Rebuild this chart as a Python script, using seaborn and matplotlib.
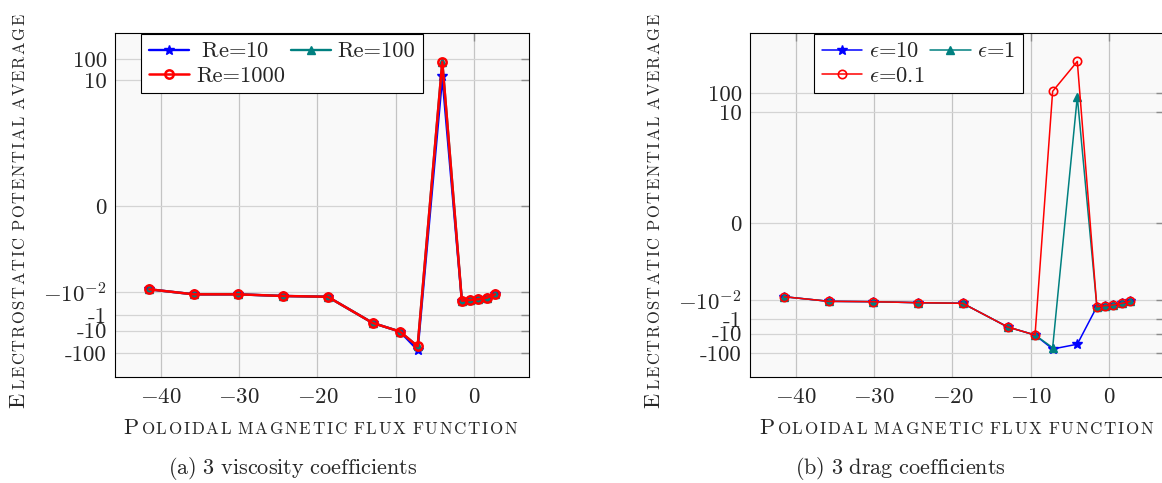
import numpy as np
import matplotlib
matplotlib.use("Agg")
import matplotlib.pyplot as plt
import seaborn as sns

# ---------------------------------------------------------------- data
# Poloidal flux sample locations (shared by both panels)
PSI = [-41.5, -35.8, -30.1, -24.4, -18.7, -12.95, -9.45, -7.2, -4.05,
       -1.55, -0.55, 0.5, 1.65, 2.7]

# Panel (a): three viscosity coefficients
RE_10 = [-0.009, -0.015, -0.015, -0.021, -0.0245, -3.2, -11.0, -73.0, 16.0,
         -0.055, -0.048, -0.041, -0.030, -0.015]
RE_100 = [-0.009, -0.015, -0.015, -0.021, -0.0245, -3.2, -11.0, -50.0, 72.0,
          -0.055, -0.048, -0.041, -0.030, -0.015]
RE_1000 = [-0.009, -0.015, -0.015, -0.021, -0.0245, -3.2, -11.0, -50.0, 72.0,
           -0.055, -0.048, -0.041, -0.030, -0.015]

# Panel (b): three drag coefficients
EPS_10 = [-0.0088, -0.0137, -0.015, -0.019, -0.022, -3.4, -11.7, -62.0, -35.0,
          -0.050, -0.039, -0.033, -0.022, -0.0137]
EPS_1 = [-0.0088, -0.0137, -0.015, -0.019, -0.022, -3.4, -11.7, -53.0, 64.0,
         -0.050, -0.039, -0.033, -0.022, -0.0137]
EPS_01 = [-0.0088, -0.0137, -0.015, -0.019, -0.022, -3.4, -11.7, 122.0, 4200.0,
          -0.050, -0.039, -0.033, -0.022, -0.0137]

LABELS_A = [r"$\;$Re=10", "Re=100", "Re=1000"]
LABELS_B = [r"$\epsilon$=10", r"$\epsilon$=1", r"$\epsilon$=0.1"]

X_TICKS = [-40, -30, -20, -10, 0]
X_TICK_LABELS = [r"$-40$", r"$-30$", r"$-20$", r"$-10$", r"$0$"]
Y_TICKS = [-100, -10, -1, -0.01, 0, 10, 100]
Y_TICK_LABELS = ["-100", "-10", "-1", r"$-10^{-2}$", "0", "10", "100"]

X_LABEL = ("P", "OLOIDAL MAGNETIC FLUX FUNCTION")
Y_LABEL = ("E", "LECTROSTATIC POTENTIAL AVERAGE")
CAPTIONS = [r"$\mathrm{(a)\ 3\ viscosity\ coefficients}$",
            r"$\mathrm{(b)\ 3\ drag\ coefficients}$"]

# ---------------------------------------------------------------- style
sns.set_style("white")
plt.rcParams.update({
    "font.family": "cmr10",
    "mathtext.fontset": "cm",
    "axes.unicode_minus": False,
    "axes.formatter.use_mathtext": True,
})

BLUE, TEAL, RED = "#0000ff", "#008080", "#ff0000"
W, H = 1162, 483
fig = plt.figure(figsize=(W / 100, H / 100), dpi=100)


def px_box(left, top, right, bottom):
    return [left / W, 1 - bottom / H, (right - left) / W, (bottom - top) / H]


ax_a = fig.add_axes(px_box(115, 33.3, 529.3, 377.3))
ax_b = fig.add_axes(px_box(750, 33.3, 1164.3, 377.3))

# tick heights (axes fraction) used to build the piecewise symmetric-log axis
FRACS_A = [0.0706, 0.1355, 0.181, 0.247, 0.498, 0.863, 0.926]
FRACS_B = [0.0706, 0.1267, 0.1686, 0.2247, 0.4485, 0.770, 0.8265]

LN10 = np.log(10.0)


def _sym(v):
    return np.arcsinh(np.asarray(v, dtype=float) / 1e-3) / LN10


def _unsym(s):
    return 1e-3 * np.sinh(np.asarray(s, dtype=float) * LN10)


def _pw(x, xk, yk):
    x = np.asarray(x, dtype=float)
    out = np.interp(x, xk, yk)
    lo_slope = (yk[1] - yk[0]) / (xk[1] - xk[0])
    hi_slope = (yk[-1] - yk[-2]) / (xk[-1] - xk[-2])
    out = np.where(x < xk[0], yk[0] + (x - xk[0]) * lo_slope, out)
    out = np.where(x > xk[-1], yk[-1] + (x - xk[-1]) * hi_slope, out)
    return out


def make_scale(fracs):
    sk = _sym(Y_TICKS)
    fk = np.asarray(fracs, dtype=float)

    def forward(v):
        return _pw(_sym(v), sk, fk)

    def inverse(f):
        return _unsym(_pw(f, fk, sk))

    return forward, inverse


def draw_series(ax, y, color, marker, ms, lw, mew, label, open_marker=False):
    sns.lineplot(x=PSI, y=y, ax=ax, color=color, linewidth=lw,
                 marker=marker, markersize=ms, markeredgewidth=mew,
                 markeredgecolor=color,
                 markerfacecolor="none" if open_marker else color,
                 label=label, estimator=None, sort=False)


def style_axes(ax, fracs):
    fwd, inv = make_scale(fracs)
    ax.set_yscale("function", functions=(fwd, inv))
    ax.set_ylim(float(inv(0.0)), float(inv(1.0)))
    ax.set_xlim(-45.88, 7.07)
    ax.set_xticks(X_TICKS)
    ax.set_xticklabels(X_TICK_LABELS)
    ax.set_yticks(Y_TICKS)
    ax.set_yticklabels(Y_TICK_LABELS)
    ax.yaxis.set_minor_locator(matplotlib.ticker.NullLocator())
    ax.xaxis.set_minor_locator(matplotlib.ticker.NullLocator())
    ax.set_facecolor("#f9f9f9")
    ax.set_axisbelow(True)
    ax.xaxis.grid(True, color="#c4c4c4", linewidth=0.9)
    ax.yaxis.grid(True, color="#d4d4d4", linewidth=0.9)
    ax.tick_params(which="major", direction="in", length=6, width=1.0,
                   color="#8c8c8c", top=True, right=True, labelsize=16.5)
    ax.tick_params(axis="x", pad=7)
    ax.tick_params(axis="y", pad=6)
    for sp in ax.spines.values():
        sp.set_color("black")
        sp.set_linewidth(0.8)
    ax.set_xlabel("")
    ax.set_ylabel("")


# ---------------------------------------------------------------- panel (a)
draw_series(ax_a, RE_10, BLUE, "*", 7.5, 1.7, 1.0, LABELS_A[0])
draw_series(ax_a, RE_100, TEAL, "^", 5.5, 1.7, 1.0, LABELS_A[1])
draw_series(ax_a, RE_1000, RED, "o", 6.0, 1.8, 1.8, LABELS_A[2], open_marker=True)
style_axes(ax_a, FRACS_A)

# ---------------------------------------------------------------- panel (b)
draw_series(ax_b, EPS_10, BLUE, "*", 7.5, 1.1, 1.0, LABELS_B[0])
draw_series(ax_b, EPS_1, TEAL, "^", 6.0, 1.1, 1.0, LABELS_B[1])
draw_series(ax_b, EPS_01, RED, "o", 6.0, 1.1, 1.2, LABELS_B[2], open_marker=True)
style_axes(ax_b, FRACS_B)


def row_legend(ax, anchor_x):
    h, l = ax.get_legend_handles_labels()
    order = [0, 2, 1]  # fill rows first: two entries on top, third below
    leg = ax.legend([h[i] for i in order], [l[i] for i in order], ncol=2,
                    loc="upper left", bbox_to_anchor=(anchor_x, 0.998),
                    fontsize=16.2, handlelength=1.8, handletextpad=0.3,
                    columnspacing=0.25, borderpad=0.34, labelspacing=0.2,
                    borderaxespad=0.0, fancybox=False, framealpha=1.0,
                    edgecolor="black")
    leg.get_frame().set_linewidth(0.8)


row_legend(ax_a, 0.0628)
row_legend(ax_b, 0.1545)


# ---------------------------------------------------------------- labels
def tracked(text):
    words = [r"\hspace{0.12}".join(w) for w in text.split()]
    return r"$\mathrm{" + r"\ \hspace{0.12}".join(words) + "}$"


def small_caps(first, rest, center, baseline, big, small, vertical=False):
    rot = 90 if vertical else 0
    kw = dict(rotation=rot, rotation_mode="anchor", ha="left", va="baseline")
    t1 = fig.text(0, 0, r"$\mathrm{" + first + "}$", fontsize=big, **kw)
    t2 = fig.text(0, 0, tracked(rest), fontsize=small, **kw)
    return (t1, t2, center, baseline, vertical)


label_specs = [
    small_caps(*X_LABEL, 321, H - 434, 16, 12.2),
    small_caps(*X_LABEL, 957, H - 434, 16, 12.2),
    small_caps(*Y_LABEL, H - 211, 25, 16, 11.9, True),
    small_caps(*Y_LABEL, H - 211, 660, 16, 11.9, True),
]

for cap, cx in zip(CAPTIONS, [293, 900]):
    fig.text(cx / W, (H - 474) / H, cap, fontsize=16, ha="center", va="baseline")

fig.canvas.draw()
renderer = fig.canvas.get_renderer()
gap = 2.0
for t1, t2, center, base, vertical in label_specs:
    b1 = t1.get_window_extent(renderer)
    b2 = t2.get_window_extent(renderer)
    if vertical:
        w1, w2 = b1.height, b2.height
        start = center - (w1 + gap + w2) / 2
        t1.set_position((base / W, start / H))
        t2.set_position((base / W, (start + w1 + gap) / H))
    else:
        w1, w2 = b1.width, b2.width
        start = center - (w1 + gap + w2) / 2
        t1.set_position((start / W, base / H))
        t2.set_position(((start + w1 + gap) / W, base / H))

fig.savefig("out.png", dpi=100)
